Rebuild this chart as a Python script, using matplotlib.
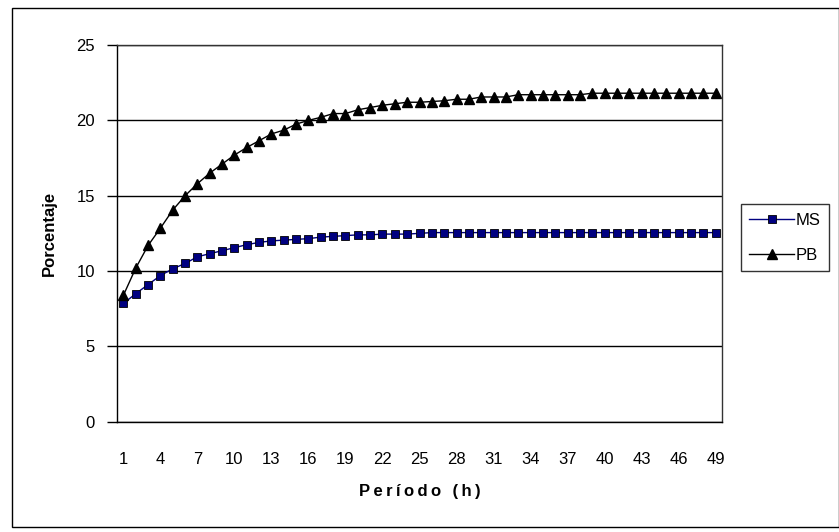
import numpy as np
import matplotlib.pyplot as plt
from matplotlib.patches import Rectangle

plt.rcParams['font.family'] = ['Liberation Sans', 'DejaVu Sans']

periodo = np.arange(1, 50)
ms = [7.85, 8.5, 9.1, 9.7, 10.15, 10.5, 10.95, 11.15, 11.35, 11.55,
      11.75, 11.9, 12.0, 12.05, 12.1, 12.15, 12.25, 12.3, 12.35, 12.4,
      12.4, 12.45, 12.45, 12.45, 12.5] + [12.55] * 24
pb = [8.4, 10.2, 11.7, 12.85, 14.05, 15.0, 15.8, 16.5, 17.1, 17.7,
      18.2, 18.65, 19.1, 19.35, 19.75, 20.0, 20.2, 20.45, 20.45, 20.7,
      20.85, 21.0, 21.1, 21.2, 21.2, 21.25, 21.3, 21.4, 21.4, 21.55,
      21.55, 21.55, 21.7, 21.7, 21.7, 21.7, 21.7, 21.7] + [21.8] * 11
xticks = list(range(1, 50, 3))

W, H = 839, 532
fig = plt.figure(figsize=(W / 100, H / 100), dpi=100)
ax = fig.add_axes([117.3 / W, 1 - 421.7 / H, (721.7 - 117.3) / W, (421.7 - 45) / H])

ax.plot(periodo, ms, color='#000080', lw=1, marker='s', ms=5.5,
        mfc='#000080', mec='black', mew=0.6, label='MS')
ax.plot(periodo, pb, color='black', lw=1, marker='^', ms=7,
        mfc='black', mec='black', label='PB')

ax.set_xlim(0.5, 49.5)
ax.set_ylim(0, 25)
ax.set_yticks(range(0, 26, 5))
ax.set_xticks(xticks)
ax.yaxis.grid(True, color='black', lw=1)
ax.set_axisbelow(True)
ax.tick_params(axis='x', length=0, pad=22, labelsize=12)
ax.tick_params(axis='y', length=7, width=1, direction='out', pad=9, labelsize=12)
for s in ax.spines.values():
    s.set_color('#333333')
    s.set_linewidth(1)
ax.spines['left'].set_color('black')
ax.spines['bottom'].set_color('black')

# letter-spaced like the original
ax.set_xlabel('\u2009'.join('Período (h)'), fontsize=12, fontweight='bold', labelpad=12)
ax.set_ylabel('Porcentaje', fontsize=12, fontweight='bold', labelpad=14)

leg = fig.legend(loc='lower left', bbox_to_anchor=(741 / W, 1 - 271 / H),
                 frameon=True, fancybox=False, fontsize=12, handlelength=2.7,
                 borderpad=0.5, labelspacing=1.2, handletextpad=0.1,
                 borderaxespad=0)
leg.get_frame().set_edgecolor('black')
leg.get_frame().set_linewidth(1)

fig.patches.append(Rectangle((11.5 / W, 1 - 527 / H), (838.5 - 11.5) / W, (527 - 8) / H,
                             transform=fig.transFigure, fill=False,
                             edgecolor='black', lw=1))

fig.savefig('out.png', dpi=100)
